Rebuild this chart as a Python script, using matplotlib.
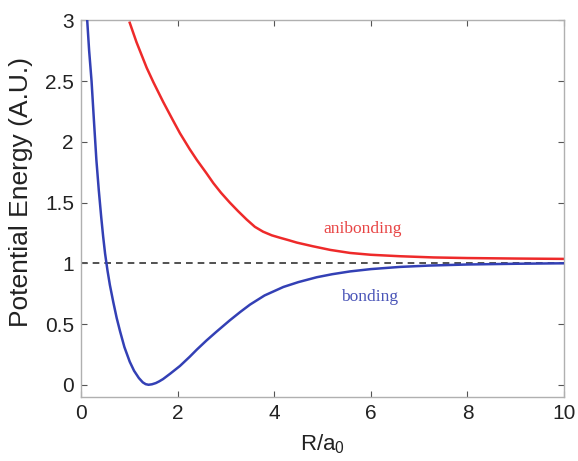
import matplotlib
matplotlib.use("Agg")
import matplotlib.pyplot as plt
from matplotlib.ticker import FormatStrFormatter

# values
r_bond = [0.13, 0.17, 0.22, 0.27, 0.32, 0.37, 0.42, 0.46, 0.50, 0.55, 0.60, 0.67,
          0.74, 0.81, 0.90, 1.01, 1.10, 1.20, 1.28, 1.34, 1.40, 1.47, 1.55, 1.62,
          1.70, 1.85, 2.05, 2.25, 2.40, 2.60, 2.80, 3.08, 3.30, 3.50, 3.80, 4.19,
          4.50, 4.88, 5.20, 5.57, 6.00, 6.60, 7.20, 8.00, 9.00, 10.0]
e_bond = [3.00, 2.75, 2.50, 2.17, 1.85, 1.60, 1.38, 1.22, 1.08, 0.94, 0.82, 0.68,
          0.55, 0.44, 0.31, 0.19, 0.115, 0.055, 0.02, 0.005, 0.0, 0.004, 0.014, 0.028,
          0.047, 0.092, 0.155, 0.23, 0.29, 0.365, 0.435, 0.53, 0.60, 0.66, 0.735, 0.805,
          0.845, 0.885, 0.91, 0.933, 0.952, 0.97, 0.981, 0.99, 0.996, 1.0]

r_anti = [1.01, 1.15, 1.36, 1.50, 1.70, 1.90, 2.05, 2.25, 2.40, 2.60, 2.74, 2.90,
          3.08, 3.25, 3.43, 3.60, 3.77, 3.95, 4.12, 4.30, 4.47, 4.80, 5.16, 5.57,
          6.00, 6.60, 7.30, 8.00, 9.00, 10.0]
e_anti = [2.98, 2.82, 2.61, 2.49, 2.33, 2.18, 2.07, 1.94, 1.85, 1.74, 1.66, 1.58,
          1.50, 1.43, 1.36, 1.30, 1.26, 1.23, 1.21, 1.19, 1.17, 1.14, 1.11, 1.085,
          1.07, 1.058, 1.048, 1.043, 1.039, 1.036]

x_ticks = [0, 2, 4, 6, 8, 10]
y_ticks = [0, 0.5, 1, 1.5, 2, 2.5, 3]

plt.rcParams['font.family'] = ['Liberation Sans', 'DejaVu Sans']
plt.rcParams['mathtext.fontset'] = 'custom'
plt.rcParams['mathtext.rm'] = 'Liberation Sans'
plt.rcParams['mathtext.it'] = 'Liberation Sans'

fig = plt.figure(figsize=(5.78, 4.61), dpi=100)
ax = fig.add_axes([0.140, 0.139, 0.836, 0.817])

ax.axhline(1, color='#333333', linestyle=(0, (4, 3)), linewidth=1.2, zorder=1)
ax.plot(r_anti, e_anti, color='#ee2a2a', linewidth=1.8, zorder=2)
ax.plot(r_bond, e_bond, color='#3340b5', linewidth=1.8, zorder=3)

ax.text(5.82, 1.28, 'anibonding', color='#e84545', fontsize=12.5,
        family='Liberation Serif', ha='center', va='center')
ax.text(5.98, 0.72, 'bonding', color='#4a55b8', fontsize=12.5,
        family='Liberation Serif', ha='center', va='center')

ax.set_xlim(0, 10)
ax.set_ylim(-0.1, 3)
ax.set_xticks(x_ticks)
ax.set_yticks(y_ticks)
ax.yaxis.set_major_formatter(FormatStrFormatter('%g'))

for s in ax.spines.values():
    s.set_color('#b0b0b0')
    s.set_linewidth(1.0)
ax.tick_params(direction='in', top=True, right=True, length=4, width=0.8,
               color='#555555', labelsize=15, labelcolor='#222222', pad=5)

ax.set_xlabel(r'R/a$_0$', fontsize=16, color='#222222')
ax.xaxis.set_label_coords(0.5, -0.095)
ax.set_ylabel('Potential Energy (A.U.)', fontsize=19, color='#222222')
ax.yaxis.set_label_coords(-0.10, 0.545)

plt.savefig('out.png', dpi=100)
plt.close(fig)
